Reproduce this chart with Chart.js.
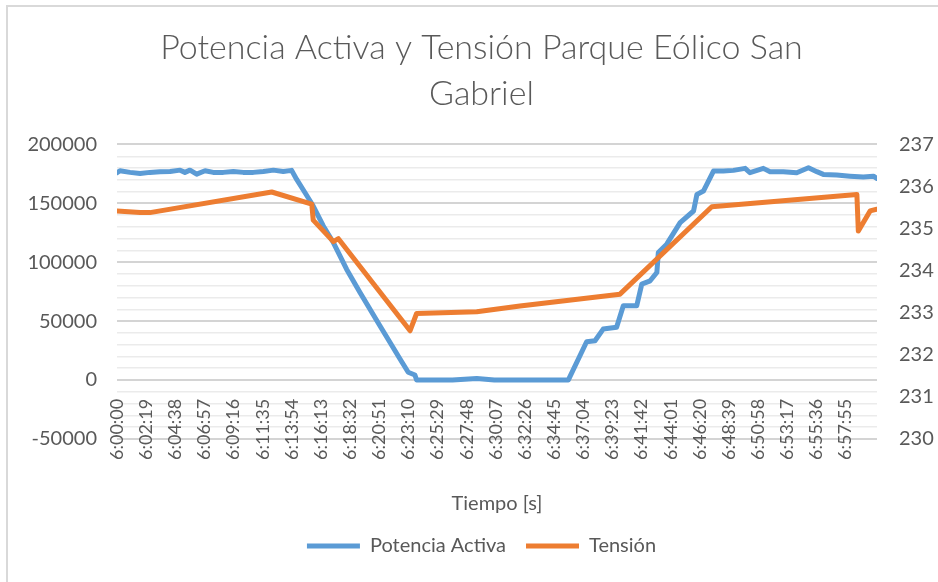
<!DOCTYPE html>
<html>
<head>
<meta charset="utf-8">
<script src="https://cdn.jsdelivr.net/npm/chart.js@4.4.1/dist/chart.umd.min.js"></script>
<style>
  html, body { margin: 0; padding: 0; background: #fff; }
  #wrap { width: 938px; height: 582px; position: relative; }
</style>
</head>
<body>
<div id="wrap"><canvas id="chart"></canvas></div>
<script>
// x axis labels (one every 139 s)
var tickLabels = ['6:00:00', '6:02:19', '6:04:38', '6:06:57', '6:09:16', '6:11:35', '6:13:54',
    '6:16:13', '6:18:32', '6:20:51', '6:23:10', '6:25:29', '6:27:48', '6:30:07', '6:32:26',
    '6:34:45', '6:37:04', '6:39:23', '6:41:42', '6:44:01', '6:46:20', '6:48:39', '6:50:58',
    '6:53:17', '6:55:36', '6:57:55'];

// Potencia Activa, seconds after 6:00:00
var potenciaSeg = [0, 14, 62, 110, 157, 205, 253, 301, 324, 348, 380, 420, 459, 507, 555, 602, 650, 698,
    746, 793, 833, 857, 897, 936, 984, 1032, 1095, 1159, 1254, 1350, 1389, 1421, 1429, 1600, 1716,
    1800, 2000, 2153, 2240, 2280, 2319, 2383, 2415, 2479, 2503, 2543, 2575, 2582, 2622, 2686, 2750,
    2766, 2797, 2845, 2892, 2940, 2996, 3019, 3083, 3115, 3178, 3242, 3298, 3338, 3369, 3433, 3496,
    3560, 3608, 3624];
var potenciaValores = [176000, 177700, 176300, 175400, 176300, 176900, 177100, 178200, 176300, 178200,
    174800, 177700, 176300, 176300, 177100, 176300, 176300, 177100, 178200, 177100, 178000, 170300,
    159000, 147700, 130800, 116700, 94100, 74300, 46000, 17800, 6500, 4200, 0, 0, 1200, 0, 0, 0,
    32400, 33300, 43200, 44700, 63000, 63000, 81400, 84200, 91300, 108200, 115300, 133600, 143500,
    157600, 160400, 177400, 177400, 178000, 179700, 176000, 179700, 176900, 176900, 176000, 180200,
    176900, 174600, 174000, 173100, 172300, 173100, 171200];

// Tensión
var tensionSeg = [0, 110, 157, 738, 929, 936, 1032, 1056, 1398, 1429, 1716, 1922, 2399, 2837, 3529,
    3536, 3592, 3624];
var tensionValores = [235.42, 235.38, 235.38, 235.87, 235.58, 235.20, 234.69, 234.76, 232.57, 232.98,
    233.02, 233.16, 233.44, 235.52, 235.81, 234.94, 235.42, 235.46];

var tituloLineas = ['Potencia Activa y Tensión Parque Eólico San', 'Gabriel'];

function aSegundos(label) {
    var p = label.split(':');
    return (parseInt(p[0]) - 6) * 3600 + parseInt(p[1]) * 60 + parseInt(p[2]);
}

function puntos(xs, ys) {
    return xs.map(function (x, i) { return { x: x, y: ys[i] }; });
}

var tickSeg = tickLabels.map(aSegundos);
var gris = '#595959';
var fuente = 'Lato, "Open Sans", sans-serif';

var marco = {
    id: 'marco',
    beforeDraw: function (chart) {
        var ctx = chart.ctx;
        ctx.save();
        ctx.fillStyle = '#fff';
        ctx.fillRect(0, 0, chart.width, chart.height);
        ctx.strokeStyle = '#d9d9d9';
        ctx.lineWidth = 2;
        ctx.beginPath();
        ctx.moveTo(7, chart.height);
        ctx.lineTo(7, 6);
        ctx.lineTo(chart.width, 6);
        ctx.stroke();
        ctx.restore();
    }
};

new Chart(document.getElementById('chart'), {
    type: 'line',
    data: {
        datasets: [{
            label: 'Potencia Activa',
            data: puntos(potenciaSeg, potenciaValores),
            borderColor: '#5B9BD5',
            backgroundColor: '#5B9BD5',
            borderWidth: 5,
            borderCapStyle: 'round',
            borderJoinStyle: 'round',
            pointRadius: 0,
            pointStyle: 'line',
            yAxisID: 'y',
            order: 2
        }, {
            label: 'Tensión',
            data: puntos(tensionSeg, tensionValores),
            borderColor: '#ED7D31',
            backgroundColor: '#ED7D31',
            borderWidth: 5,
            borderCapStyle: 'round',
            borderJoinStyle: 'round',
            pointRadius: 0,
            pointStyle: 'line',
            yAxisID: 'y1',
            order: 1
        }]
    },
    options: {
        responsive: true,
        maintainAspectRatio: false,
        animation: false,
        devicePixelRatio: 1,
        layout: { padding: { left: 25, right: 0, top: 0, bottom: 16 } },
        plugins: {
            title: {
                display: true,
                text: tituloLineas,
                color: gris,
                font: { family: fuente, size: 34, weight: '300', lineHeight: 1.36 },
                padding: { top: 25, bottom: 27 }
            },
            legend: {
                position: 'bottom',
                labels: {
                    usePointStyle: true,
                    pointStyleWidth: 53,
                    color: gris,
                    font: { family: fuente, size: 20 },
                    padding: 20,
                    sort: function (a, b) { return a.datasetIndex - b.datasetIndex; }
                }
            },
            tooltip: { enabled: false }
        },
        scales: {
            x: {
                type: 'linear',
                position: 'bottom',
                min: 0,
                max: 3625,
                afterBuildTicks: function (scale) {
                    scale.ticks = tickSeg.map(function (v) { return { value: v }; });
                },
                afterFit: function (scale) {
                    // labels sit inside the plot area, as in the original
                    scale._computeLabelArea = function () { return undefined; };
                },
                ticks: {
                    autoSkip: false,
                    maxRotation: 90,
                    minRotation: 90,
                    padding: -48,
                    color: gris,
                    font: { family: fuente, size: 18 },
                    z: 1,
                    callback: function (v, i) { return tickLabels[i]; }
                },
                grid: { display: false },
                border: { display: false },
                title: {
                    display: true,
                    text: 'Tiempo [s]',
                    color: gris,
                    font: { family: fuente, size: 20 },
                    padding: { top: 80, bottom: 0 }
                }
            },
            y: {
                position: 'left',
                min: -50000,
                max: 200000,
                afterFit: function (scale) { scale.width = 92; },
                ticks: {
                    stepSize: 10000,
                    autoSkip: false,
                    padding: 20,
                    color: gris,
                    font: { family: fuente, size: 20 },
                    callback: function (v) { return v % 50000 === 0 ? String(v) : ''; }
                },
                grid: {
                    drawTicks: false,
                    color: function (c) { return c.tick.value % 50000 === 0 ? '#d4d4d4' : '#ebebeb'; },
                    lineWidth: function (c) { return c.tick.value % 50000 === 0 ? 2 : 1.5; }
                },
                border: { display: false }
            },
            y1: {
                position: 'right',
                min: 230,
                max: 237,
                afterFit: function (scale) { scale.width = 61; },
                ticks: {
                    stepSize: 1,
                    padding: 22,
                    color: gris,
                    font: { family: fuente, size: 20 }
                },
                grid: { drawOnChartArea: false, drawTicks: false },
                border: { display: false }
            }
        }
    },
    plugins: [marco]
});
</script>
</body>
</html>
